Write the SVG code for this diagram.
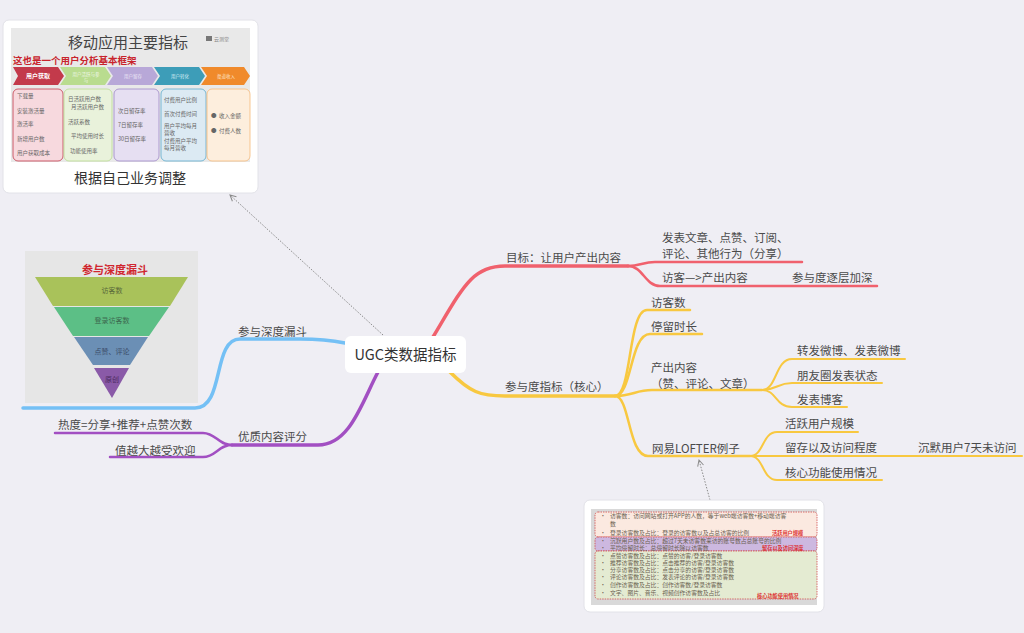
<svg xmlns="http://www.w3.org/2000/svg" width="1024" height="633" viewBox="0 0 1024 633">
<defs>
<style>
.lbl{font-family:"Noto Sans CJK SC","Noto Sans",sans-serif;font-size:11.5px;fill:#4a4a4a}
.ctr{font-family:"Noto Sans CJK SC","Noto Sans",sans-serif;font-size:14.5px;fill:#333}
.cap{font-family:"Noto Sans CJK SC",sans-serif;font-size:14px;fill:#333}
.img{font-family:"Noto Sans CJK SC",sans-serif;fill:#666}
.sm{font-family:"Noto Sans CJK SC",sans-serif;font-size:5.8px;fill:#6a6050}
.rl{font-family:"Noto Sans CJK SC",sans-serif;font-size:5.2px;fill:#d33;font-weight:bold}
.red{fill:none;stroke:#f0616d;stroke-linecap:round}
.yel{fill:none;stroke:#f8c840;stroke-linecap:round}
.blu{fill:none;stroke:#74c0f5;stroke-linecap:round}
.pur{fill:none;stroke:#a24fc2;stroke-linecap:round}
.dot{fill:none;stroke:#8a8a8a;stroke-width:1;stroke-dasharray:1.5 1.5}
.card{fill:#fff;stroke:#e2e2e8;stroke-width:1}
.dash{stroke:#d04a4a;stroke-width:0.8;stroke-dasharray:1.5 1}
</style>
<marker id="arr" viewBox="0 0 8 8" refX="7" refY="4" markerWidth="8" markerHeight="8" orient="auto" markerUnits="userSpaceOnUse">
<path d="M1,1 L7,4 L1,7" fill="none" stroke="#8a8a8a" stroke-width="1"/>
</marker>
</defs>
<rect width="1024" height="633" fill="#efeef4"/>

<g id="connectors">
<path class="red" stroke-width="3.5" d="M433,337 C463,287 472,266 505,266 L628,266"/>
<path class="red" stroke-width="2.5" d="M628,266 C640,266 643,262 655,262 L802,262"/>
<path class="red" stroke-width="2.5" d="M628,266 C643,266 645,286 660,286 L877,286"/>
<path class="yel" stroke-width="3.5" d="M450,372 C470,392 480,396 505,396 L615,396"/>
<path class="yel" stroke-width="2.5" d="M615,396 C632,396 628,310 647,310 L690,310"/>
<path class="yel" stroke-width="2.5" d="M615,396 C632,396 630,334 650,334 L702,334"/>
<path class="yel" stroke-width="2.5" d="M615,396 C632,396 636,390 652,390 L762,390"/>
<path class="yel" stroke-width="2.5" d="M615,396 C630,396 628,456 648,456 L750,456"/>
<path class="yel" stroke-width="2" d="M762,390 C777,390 775,359 792,359 L905,359"/>
<path class="yel" stroke-width="2" d="M762,390 C777,390 777,383 792,383 L882,383"/>
<path class="yel" stroke-width="2" d="M762,390 C777,390 775,407 792,407 L847,407"/>
<path class="yel" stroke-width="2" d="M750,456 C764,456 762,432 777,432 L858,432"/>
<path class="yel" stroke-width="2" d="M750,456 L1022,456"/>
<path class="yel" stroke-width="2" d="M750,456 C764,456 762,480 777,480 L882,480"/>
<path class="blu" stroke-width="3.5" d="M345,343 C330,340 318,339 300,339 L240,339 C212,339 225,408 195,408 L23,408"/>
<path class="pur" stroke-width="3.5" d="M378,372 C362,402 350,445 318,445 L232,445"/>
<path class="pur" stroke-width="2.5" d="M232,445 C218,445 216,433 203,433 L55,433"/>
<path class="pur" stroke-width="2.5" d="M232,445 C218,445 216,457 203,457 L110,457"/>
<path class="dot" d="M383,335 L230,195" marker-end="url(#arr)"/>
<path class="dot" d="M710,500 L699,460" marker-end="url(#arr)"/>
</g>

<g id="center">
<rect x="345" y="336" width="121" height="37" rx="6" fill="#fff"/>
<text class="ctr" x="405.5" y="359.5" text-anchor="middle">UGC类数据指标</text>
</g>

<g id="goal">
<text class="lbl" x="506" y="262">目标：让用户产出内容</text>
</g>
<g id="goal-a">
<text class="lbl" x="662" y="242">发表文章、点赞、订阅、</text>
<text class="lbl" x="662" y="258">评论、其他行为（分享）</text>
</g>
<g id="goal-b">
<text class="lbl" x="662" y="282">访客—&gt;产出内容</text>
</g>
<g id="goal-b1">
<text class="lbl" x="792" y="282">参与度逐层加深</text>
</g>

<g id="engage">
<text class="lbl" x="505" y="391">参与度指标（核心）</text>
</g>
<g id="visitors"><text class="lbl" x="651" y="307">访客数</text></g>
<g id="staytime"><text class="lbl" x="651" y="331">停留时长</text></g>
<g id="output">
<text class="lbl" x="651" y="372">产出内容</text>
<text class="lbl" x="651" y="388">（赞、评论、文章）</text>
</g>
<g id="out1"><text class="lbl" x="797" y="355">转发微博、发表微博</text></g>
<g id="out2"><text class="lbl" x="797" y="380">朋友圈发表状态</text></g>
<g id="out3"><text class="lbl" x="797" y="404">发表博客</text></g>
<g id="lofter"><text class="lbl" x="652" y="453">网易LOFTER例子</text></g>
<g id="lof1"><text class="lbl" x="785" y="428">活跃用户规模</text></g>
<g id="lof2"><text class="lbl" x="785" y="452">留存以及访问程度</text></g>
<g id="lof2a"><text class="lbl" x="918" y="452">沉默用户7天未访问</text></g>
<g id="lof3"><text class="lbl" x="785" y="477">核心功能使用情况</text></g>

<g id="funnel-topic"><text class="lbl" x="238" y="336">参与深度漏斗</text></g>
<g id="quality"><text class="lbl" x="238" y="441">优质内容评分</text></g>
<g id="q1"><text class="lbl" x="58" y="429">热度=分享+推荐+点赞次数</text></g>
<g id="q2"><text class="lbl" x="115" y="455">值越大越受欢迎</text></g>

<g id="card-top">
<rect class="card" x="3" y="20" width="255" height="173" rx="6"/>
<rect x="11" y="28" width="239" height="134" fill="#e9e9e9"/>
<text class="img" x="128" y="48" text-anchor="middle" font-size="15" style="fill:#444">移动应用主要指标</text>
<rect x="206" y="36" width="6" height="5" fill="#777"/>
<text class="img" x="214" y="41" font-size="5" style="fill:#888">云测堂</text>
<text class="img" x="13" y="64" font-size="9.5" font-weight="bold" style="fill:#c8232c">这也是一个用户分析基本框架</text>
<polygon points="13,67 58,67 64,76 58,85 13,85 18,76" fill="#c33a4b"/>
<polygon points="60,67 105,67 111,76 105,85 60,85 66,76" fill="#b9dc8f"/>
<polygon points="107,67 152,67 158,76 152,85 107,85 113,76" fill="#b8a8d8"/>
<polygon points="154,67 199,67 205,76 199,85 154,85 160,76" fill="#3d9db8"/>
<polygon points="201,67 244,67 250,76 244,85 201,85 207,76" fill="#f08a2b"/>
<text class="img" x="38" y="78" font-size="6" text-anchor="middle" font-weight="bold" style="fill:#fff">用户获取</text>
<text class="img" x="86" y="75.5" font-size="4.5" text-anchor="middle" style="fill:#eef6e4">用户活跃与参</text>
<text class="img" x="86" y="81.5" font-size="4.5" text-anchor="middle" style="fill:#eef6e4">与</text>
<text class="img" x="133" y="78" font-size="4.5" text-anchor="middle" style="fill:#ece6f6">用户留存</text>
<text class="img" x="180" y="78" font-size="4.5" text-anchor="middle" style="fill:#d8eef4">用户转化</text>
<text class="img" x="226" y="78" font-size="4.5" text-anchor="middle" style="fill:#fde2c8">渠道收入</text>
<rect x="13" y="89" width="50" height="72" rx="5" fill="#f7d9de" stroke="#c33a4b" stroke-width="0.8"/>
<rect x="64" y="89" width="48" height="72" rx="5" fill="#e9f2db" stroke="#b9dc8f" stroke-width="0.8"/>
<rect x="114" y="89" width="45" height="72" rx="5" fill="#e6dff2" stroke="#9d86c6" stroke-width="0.8"/>
<rect x="161" y="89" width="45" height="72" rx="5" fill="#dceaf3" stroke="#5aaacb" stroke-width="0.8"/>
<rect x="207" y="89" width="43" height="72" rx="5" fill="#fdeedd" stroke="#f5b97a" stroke-width="0.8"/>
<g class="img" font-size="5.5" style="fill:#666">
<text x="17" y="98">下载量</text>
<text x="17" y="113">安装激活量</text>
<text x="17" y="126">激活率</text>
<text x="17" y="141">新增用户数</text>
<text x="17" y="155">用户获取成本</text>
<text x="68" y="101">日活跃用户数</text>
<text x="71" y="108.5">月活跃用户数</text>
<text x="68" y="124">活跃系数</text>
<text x="71" y="138">平均使用时长</text>
<text x="70" y="153">功能使用率</text>
<text x="118" y="113">次日留存率</text>
<text x="118" y="127">7日留存率</text>
<text x="118" y="141">30日留存率</text>
<text x="164" y="102">付费用户比例</text>
<text x="164" y="116">首次付费时间</text>
<text x="164" y="128">用户平均每月</text>
<text x="164" y="135">营收</text>
<text x="164" y="143">付费用户平均</text>
<text x="164" y="150">每月营收</text>
<text x="211" y="118">●</text>
<text x="219" y="118">收入金额</text>
<text x="211" y="133">●</text>
<text x="219" y="133">付费人数</text>
</g>
<text class="cap" x="130" y="183" text-anchor="middle">根据自己业务调整</text>
</g>

<g id="funnel-img">
<rect x="25" y="251" width="173" height="152" fill="#e6e6e6"/>
<text class="img" x="115" y="274" font-size="11" text-anchor="middle" font-weight="bold" style="fill:#d0252e">参与深度漏斗</text>
<polygon points="35,277 188,277 170,306 53,306" fill="#a9c25a"/>
<polygon points="54,307 169,307 149,336 73,336" fill="#5cbf86"/>
<polygon points="74,337 148,337 130,365 93,365" fill="#6b8fb5"/>
<polygon points="94,368 129,368 112,398" fill="#8a5aa8"/>
<text class="img" x="112" y="293" font-size="7" text-anchor="middle" style="fill:#5a6a3a">访客数</text>
<text class="img" x="112" y="323" font-size="7" text-anchor="middle" style="fill:#3c6a50">登录访客数</text>
<text class="img" x="112" y="354" font-size="7" text-anchor="middle" style="fill:#3a4a66">点赞、评论</text>
<text class="img" x="112" y="382" font-size="7" text-anchor="middle" style="fill:#4a2a60">原创</text>
</g>

<g id="card-bottom">
<rect class="card" x="584" y="500" width="240" height="112" rx="6"/>
<rect x="591" y="509" width="226" height="96" fill="#d9d9d9"/>
<rect x="595" y="512" width="222" height="25" rx="3" fill="#fbe9e0" class="dash"/>
<rect x="595" y="537" width="222" height="14" rx="3" fill="#cdb8e0" class="dash"/>
<rect x="595" y="551" width="222" height="48" rx="3" fill="#e4ebd2" class="dash"/>
<g>
<text class="sm" x="600" y="518">•</text>
<text class="sm" x="610" y="518">访客数：访问网站或打开APP的人数，等于web端访客数+移动端访客</text>
<text class="sm" x="610" y="525.5">数</text>
<text class="sm" x="600" y="535">•</text>
<text class="sm" x="610" y="535">登录访客数及占比：登录的访客数以及占总访客的比例</text>
<text class="rl" x="772" y="535">活跃用户规模</text>
<text class="sm" x="600" y="543">•</text>
<text class="sm" x="610" y="543">沉默用户数及占比：超过7天未访客数来访的账号数占总账号的比例</text>
<text class="sm" x="600" y="550">•</text>
<text class="sm" x="610" y="550">平均停留时长：总停留时长除以访客数</text>
<text class="rl" x="762" y="550">留存以及访问深度</text>
<text class="sm" x="600" y="557.5">•</text><text class="sm" x="610" y="557.5">点赞访客数及占比：点赞的访客/登录访客数</text>
<text class="sm" x="600" y="564.8">•</text><text class="sm" x="610" y="564.8">推荐访客数及占比：点击推荐的访客/登录访客数</text>
<text class="sm" x="600" y="572">•</text><text class="sm" x="610" y="572">分享访客数及占比：点击分享的访客/登录访客数</text>
<text class="sm" x="600" y="579.3">•</text><text class="sm" x="610" y="579.3">评论访客数及占比：发表评论的访客/登录访客数</text>
<text class="sm" x="600" y="586.6">•</text><text class="sm" x="610" y="586.6">创作访客数及占比：创作访客数/登录访客数</text>
<text class="sm" x="600" y="595">•</text><text class="sm" x="610" y="595">文字、图片、音乐、视频创作访客数及占比</text>
<text class="rl" x="757" y="598">核心功能使用情况</text>
</g>
</g>
</svg>
